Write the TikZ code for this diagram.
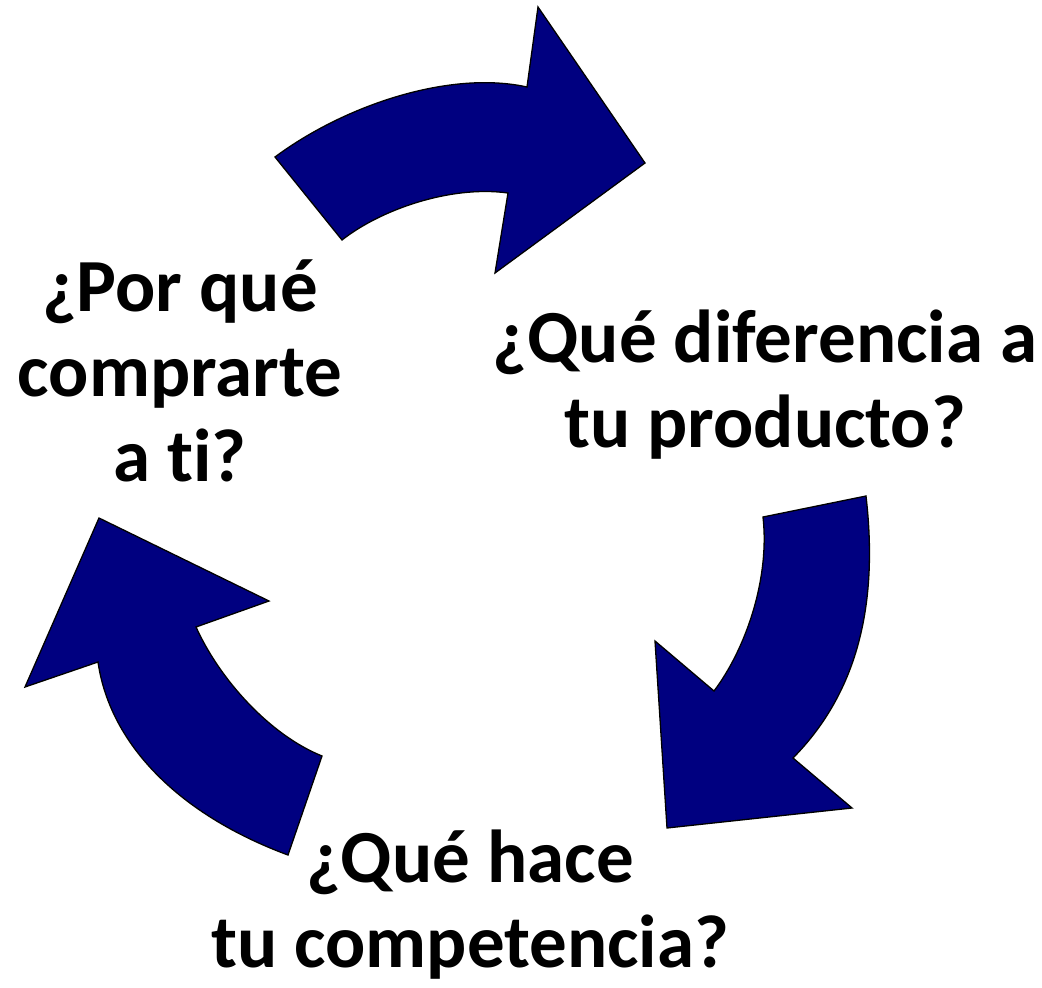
\documentclass[tikz,border=0pt]{standalone}
\usepackage{fontspec}
\setmainfont{Carlito}[Ligatures=CommonOff]
\usepackage{tikz}

\definecolor{navy}{RGB}{0,0,128}

\begin{document}
\begin{tikzpicture}[x=1pt, y=-1pt,
  lbl/.style={font=\fontsize{75}{85}\selectfont\bfseries, align=center, inner sep=0pt},
  arw/.style={fill=navy, draw=black, line width=1.3pt, line join=miter}]
\useasboundingbox (0,0) rectangle (1042,988);

% questions
\node (por)  [lbl] at (180,371) {¿Por qué\\comprarte\\a ti?};
\node (dif)  [lbl] at (765,385) {¿Qué diferencia a\\tu producto?};
\node (comp) [lbl] at (470,905) {¿Qué hace\\tu competencia?};

% top arrow
\draw[arw] (275,157) .. controls (345,105) and (450,70) .. (527,87)
  -- (538,7) -- (645,163) -- (495,273) -- (508,193)
  .. controls (450,185) and (380,210) .. (342,240) -- cycle;

% right arrow
\draw[arw] (866,496) .. controls (878,600) and (860,690) .. (793,758)
  -- (852,808) -- (667,828) -- (655,641) -- (714,691)
  .. controls (745,650) and (770,580) .. (763,517) -- cycle;

% left arrow
\draw[arw] (99,518) -- (269,601) -- (196,627)
  .. controls (220,680) and (270,735) .. (322,756)
  -- (288,855) .. controls (180,815) and (110,745) .. (98,662)
  -- (25,687) -- cycle;
\end{tikzpicture}
\end{document}
